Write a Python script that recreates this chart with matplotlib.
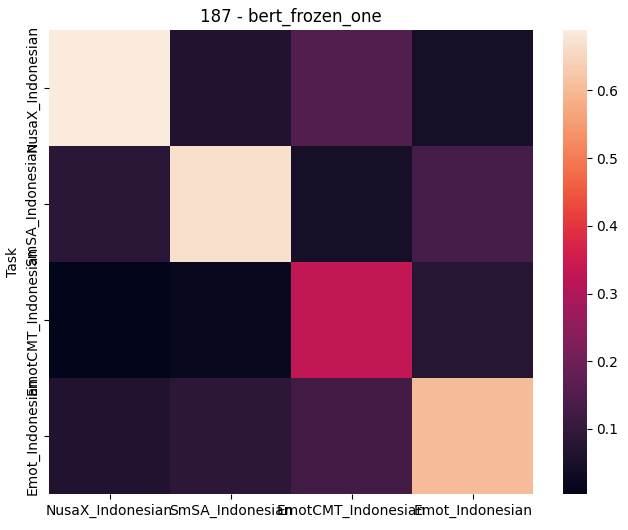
import numpy as np
import matplotlib
matplotlib.use("Agg")
import matplotlib.pyplot as plt
import seaborn as sns

tasks = ["NusaX_Indonesian", "SmSA_Indonesian", "EmotCMT_Indonesian", "Emot_Indonesian"]
row_nusax = [0.689, 0.065, 0.150, 0.045]
row_smsa = [0.080, 0.670, 0.045, 0.130]
row_emotcmt = [0.004, 0.020, 0.330, 0.075]
row_emot = [0.065, 0.085, 0.125, 0.605]

values = np.array([row_nusax, row_smsa, row_emotcmt, row_emot])

fig = plt.figure(figsize=(6.28, 5.30), dpi=100)
ax = fig.add_axes([0.078, 0.068, 0.771, 0.875])
cax = fig.add_axes([0.8965, 0.068, 0.038, 0.875])

sns.heatmap(values, ax=ax, cbar_ax=cax, cmap="rocket",
            xticklabels=tasks, yticklabels=tasks)
ax.set_yticklabels(tasks, rotation=90, va="center")
ax.set_xticklabels(tasks, rotation=0)
ax.set_ylabel("Task")
ax.set_title("187 - bert_frozen_one")

fig.savefig("out.png", dpi=100)
